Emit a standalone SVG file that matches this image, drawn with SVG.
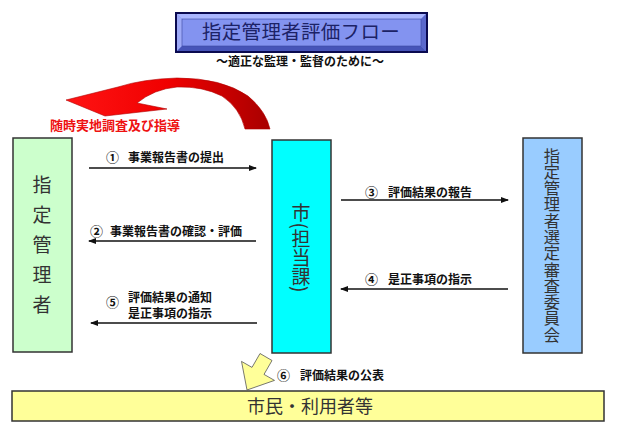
<svg xmlns="http://www.w3.org/2000/svg" width="617" height="430" viewBox="0 0 617 430">
<style>
  text { font-family: "Noto Sans CJK JP", "Noto Sans", sans-serif; }
  .lbl { font-size: 12px; font-weight: 700; fill: #111; }
  .num { font-size: 13px; font-weight: 700; fill: #111; }
  .box { stroke: #333; stroke-width: 1.5; }
  .big { font-size: 19px; fill: #333; }
  .vt { writing-mode: vertical-rl; text-anchor: middle; }
  .conn { stroke: #111; stroke-width: 1.5; fill: none; }
</style>
<defs>
  <marker id="ah" markerUnits="userSpaceOnUse" markerWidth="8" markerHeight="6" refX="7" refY="3" orient="auto">
    <path d="M0,0 L8,3 L0,6 Z" fill="#111"/>
  </marker>
  <linearGradient id="redg" gradientUnits="userSpaceOnUse" x1="66" y1="0" x2="270" y2="0">
    <stop offset="0" stop-color="#ff1414"/>
    <stop offset="0.5" stop-color="#f00000"/>
    <stop offset="1" stop-color="#a80000"/>
  </linearGradient>
</defs>
<rect width="617" height="430" fill="#ffffff"/>

<g id="title">
  <rect x="176" y="13" width="251" height="39" fill="#8090ee" stroke="#0a0a50" stroke-width="2"/>
  <polygon points="177,14 426,14 421,19 182,19" fill="#aab6ff"/>
  <polygon points="177,14 182,19 182,46 177,51" fill="#9eaaf8"/>
  <polygon points="426,14 426,51 421,46 421,19" fill="#5a68cc"/>
  <polygon points="177,51 182,46 421,46 426,51" fill="#4654b8"/>
  <rect x="182" y="19" width="239" height="27" fill="#8393f0" stroke="#3a46a0" stroke-width="0.6"/>
  <text x="301" y="39" text-anchor="middle" font-size="19.5" fill="#1c2266" letter-spacing="0.3">指定管理者評価フロー</text>
  <text x="300" y="66" text-anchor="middle" font-size="12" font-weight="700" fill="#111">～適正な監理・監督のために～</text>
</g>

<g id="survey">
  <path d="M66,100 L118,87 Q143,79 177,78 Q222,78 248,96 Q266,111 270,129 L245,129 Q240,108 222,96 Q202,86 177,87 Q154,89 137,103 L167,109 L105,116 Z" fill="url(#redg)" stroke="#b00000" stroke-width="0.6"/>
  <text x="50" y="130" font-size="13" font-weight="700" fill="#ee1111">随時実地調査及び指導</text>
</g>

<g id="manager">
  <rect class="box" x="13" y="138" width="59" height="214" fill="#ccffcc"/>
  <text class="big vt" x="42" y="250" letter-spacing="11">指定管理者</text>
</g>

<g id="city">
  <rect class="box" x="272" y="140" width="59" height="213" fill="#00ffff"/>
  <text class="vt" x="301" y="248" font-size="19" fill="#333">市(担当課)</text>
</g>

<g id="committee">
  <rect class="box" x="523" y="138" width="59" height="215" fill="#99ccff"/>
  <text class="vt" x="552" y="245" font-size="16.3" fill="#333">指定管理者選定審査委員会</text>
</g>

<g id="citizens">
  <rect class="box" x="12" y="391" width="592" height="30" fill="#ffff99"/>
  <text x="310" y="413" text-anchor="middle" font-size="18" fill="#333">市民・利用者等</text>
</g>

<g id="connectors">
  <line class="conn" x1="89" y1="168" x2="256" y2="168" marker-end="url(#ah)"/>
  <line class="conn" x1="256" y1="241" x2="89" y2="241" marker-end="url(#ah)"/>
  <line class="conn" x1="257" y1="323" x2="91" y2="323" marker-end="url(#ah)"/>
  <line class="conn" x1="341" y1="200" x2="508" y2="200" marker-end="url(#ah)"/>
  <line class="conn" x1="508" y1="289" x2="341" y2="289" marker-end="url(#ah)"/>
  <polygon points="272,360.5 260,353.5 252,367.4 241.5,361.4 247,390 274.5,380.4 264,374.4" fill="#ffff99" stroke="#555" stroke-width="0.8"/>
</g>

<g id="labels">
  <text class="num" x="106" y="162">①</text>
  <text class="lbl" x="128" y="162">事業報告書の提出</text>
  <text class="num" x="90" y="236">②</text>
  <text class="lbl" x="110" y="236">事業報告書の確認・評価</text>
  <text class="num" x="106" y="307">⑤</text>
  <text class="lbl" x="128" y="302">評価結果の通知</text>
  <text class="lbl" x="128" y="318">是正事項の指示</text>
  <text class="num" x="365" y="197">③</text>
  <text class="lbl" x="388" y="197">評価結果の報告</text>
  <text class="num" x="365" y="284">④</text>
  <text class="lbl" x="388" y="284">是正事項の指示</text>
  <text class="num" x="277" y="380">⑥</text>
  <text class="lbl" x="300" y="380">評価結果の公表</text>
</g>
</svg>
